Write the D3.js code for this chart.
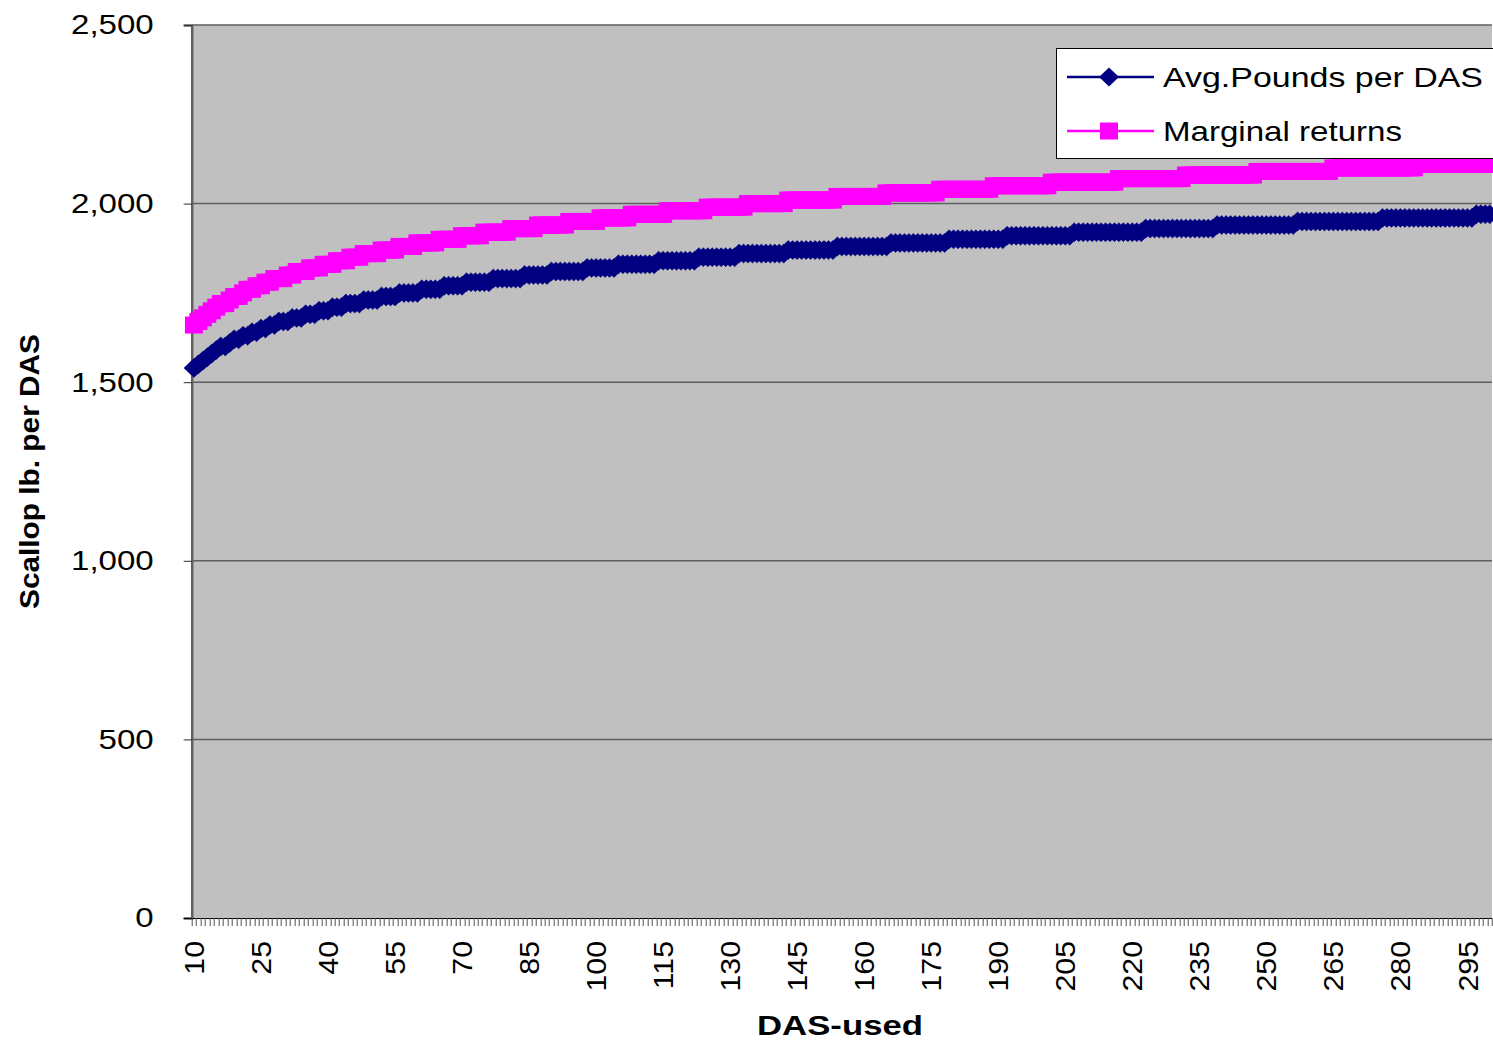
<!DOCTYPE html>
<html>
<head>
<meta charset="utf-8">
<script src="https://cdn.jsdelivr.net/npm/d3@7"></script>
<style>
  body { margin: 0; background: #ffffff; }
  text { font-family: Arial, "Liberation Sans", sans-serif; }
</style>
</head>
<body>
<div id="chart"></div>
<script>
// DAS-used categories, 10 .. 300
const dasUsed = d3.range(10, 301);

// Avg. pounds per DAS, one value per category
const avgPounds = [
  1540,1550,1560,1570,1580,1590,1600,1600,1610,1620,
  1620,1630,1630,1640,1640,1650,1650,1660,1660,1670,
  1670,1670,1680,1680,1680,1690,1690,1690,1700,1700,
  1700,1710,1710,1710,1720,1720,1720,1720,1730,1730,
  1730,1730,1740,1740,1740,1740,1750,1750,1750,1750,
  1750,1760,1760,1760,1760,1760,1770,1770,1770,1770,
  1770,1780,1780,1780,1780,1780,1780,1790,1790,1790,
  1790,1790,1790,1790,1800,1800,1800,1800,1800,1800,
  1810,1810,1810,1810,1810,1810,1810,1810,1820,1820,
  1820,1820,1820,1820,1820,1830,1830,1830,1830,1830,
  1830,1830,1830,1830,1840,1840,1840,1840,1840,1840,
  1840,1840,1840,1850,1850,1850,1850,1850,1850,1850,
  1850,1850,1860,1860,1860,1860,1860,1860,1860,1860,
  1860,1860,1860,1870,1870,1870,1870,1870,1870,1870,
  1870,1870,1870,1870,1880,1880,1880,1880,1880,1880,
  1880,1880,1880,1880,1880,1880,1890,1890,1890,1890,
  1890,1890,1890,1890,1890,1890,1890,1890,1890,1900,
  1900,1900,1900,1900,1900,1900,1900,1900,1900,1900,
  1900,1900,1910,1910,1910,1910,1910,1910,1910,1910,
  1910,1910,1910,1910,1910,1910,1910,1920,1920,1920,
  1920,1920,1920,1920,1920,1920,1920,1920,1920,1920,
  1920,1920,1920,1930,1930,1930,1930,1930,1930,1930,
  1930,1930,1930,1930,1930,1930,1930,1930,1930,1940,
  1940,1940,1940,1940,1940,1940,1940,1940,1940,1940,
  1940,1940,1940,1940,1940,1940,1940,1950,1950,1950,
  1950,1950,1950,1950,1950,1950,1950,1950,1950,1950,
  1950,1950,1950,1950,1950,1950,1960,1960,1960,1960,
  1960,1960,1960,1960,1960,1960,1960,1960,1960,1960,
  1960,1960,1960,1960,1960,1960,1960,1970,1970,1970,
  1970
];

// Marginal returns, one value per category
const marginalReturns = [
  1660,1670,1680,1690,1700,1710,1720,1720,1730,1740,
  1740,1750,1760,1760,1770,1770,1780,1780,1790,1790,
  1790,1800,1800,1810,1810,1810,1820,1820,1820,1830,
  1830,1830,1840,1840,1840,1850,1850,1850,1860,1860,
  1860,1860,1870,1870,1870,1870,1880,1880,1880,1880,
  1890,1890,1890,1890,1890,1900,1900,1900,1900,1900,
  1910,1910,1910,1910,1910,1920,1920,1920,1920,1920,
  1920,1930,1930,1930,1930,1930,1930,1940,1940,1940,
  1940,1940,1940,1940,1950,1950,1950,1950,1950,1950,
  1950,1960,1960,1960,1960,1960,1960,1960,1970,1970,
  1970,1970,1970,1970,1970,1970,1980,1980,1980,1980,
  1980,1980,1980,1980,1980,1990,1990,1990,1990,1990,
  1990,1990,1990,1990,2000,2000,2000,2000,2000,2000,
  2000,2000,2000,2010,2010,2010,2010,2010,2010,2010,
  2010,2010,2010,2010,2020,2020,2020,2020,2020,2020,
  2020,2020,2020,2020,2020,2030,2030,2030,2030,2030,
  2030,2030,2030,2030,2030,2030,2030,2040,2040,2040,
  2040,2040,2040,2040,2040,2040,2040,2040,2040,2050,
  2050,2050,2050,2050,2050,2050,2050,2050,2050,2050,
  2050,2050,2060,2060,2060,2060,2060,2060,2060,2060,
  2060,2060,2060,2060,2060,2060,2060,2070,2070,2070,
  2070,2070,2070,2070,2070,2070,2070,2070,2070,2070,
  2070,2070,2080,2080,2080,2080,2080,2080,2080,2080,
  2080,2080,2080,2080,2080,2080,2080,2080,2090,2090,
  2090,2090,2090,2090,2090,2090,2090,2090,2090,2090,
  2090,2090,2090,2090,2090,2100,2100,2100,2100,2100,
  2100,2100,2100,2100,2100,2100,2100,2100,2100,2100,
  2100,2100,2100,2100,2110,2110,2110,2110,2110,2110,
  2110,2110,2110,2110,2110,2110,2110,2110,2110,2110,
  2110
];

const yTicks = [0, 500, 1000, 1500, 2000, 2500];
const xLabelStep = 15;
const seriesNames = ["Avg.Pounds per DAS", "Marginal returns"];
const seriesColors = ["#000080", "#ff00ff"];

// stretch text a little, the original was rendered wide
function widen(sel, k) {
    sel.each(function () {
        let w = this.getComputedTextLength();
        d3.select(this)
            .attr("textLength", w * k)
            .attr("lengthAdjust", "spacingAndGlyphs");
    });
}

function init() {
    let margin = { top: 25, right: 1, bottom: 124, left: 191.7 },
        width = 1493 - margin.left - margin.right,
        height = 1042 - margin.top - margin.bottom;

    let root = d3.select("#chart")
        .append("svg")
        .attr("width", 1493)
        .attr("height", 1042);

    let svg = root.append("g")
        .attr("transform", "translate(" + margin.left + "," + margin.top + ")");

    let x = d3.scaleBand()
        .domain(dasUsed)
        .range([0, width])
        .padding(0);

    let y = d3.scaleLinear()
        .domain([0, 2500])
        .range([height, 0]);

    // grey plot area
    svg.append("rect")
        .attr("width", width)
        .attr("height", height)
        .attr("fill", "#c0c0c0");

    // horizontal grid lines
    svg.selectAll(".grid")
        .data(yTicks.filter(d => d > 0))
        .join("line")
        .attr("class", "grid")
        .attr("x1", 0)
        .attr("x2", width)
        .attr("y1", d => y(d))
        .attr("y2", d => y(d))
        .attr("stroke", "#5f5f5f")
        .attr("stroke-width", 1.5);

    // y axis
    let yAxis = svg.append("g")
        .call(d3.axisLeft(y)
            .tickValues(yTicks)
            .tickSize(8)
            .tickPadding(30)
            .tickFormat(d3.format(",")));
    yAxis.select(".domain")
        .attr("stroke", "#606060")
        .attr("stroke-width", 2.5);
    yAxis.selectAll(".tick line").attr("stroke", "#303030");
    yAxis.selectAll(".tick text")
        .attr("font-size", 28)
        .attr("fill", "#000");
    widen(yAxis.selectAll(".tick text"), 1.18);

    // x axis: tick mark at every category boundary
    let bounds = dasUsed.map(d => x(d)).concat([width]);
    svg.append("line")
        .attr("x1", -8)
        .attr("x2", width)
        .attr("y1", height + 0.5)
        .attr("y2", height + 0.5)
        .attr("stroke", "#000");
    svg.selectAll(".xtick")
        .data(bounds)
        .join("line")
        .attr("class", "xtick")
        .attr("x1", d => Math.round(d) + 0.5)
        .attr("x2", d => Math.round(d) + 0.5)
        .attr("y1", height)
        .attr("y2", height + 8)
        .attr("stroke", "#505050")
        .attr("stroke-width", 1);

    let xAxis = svg.append("g")
        .attr("transform", "translate(0," + height + ")")
        .call(d3.axisBottom(x)
            .tickValues(dasUsed.filter((d, i) => i % xLabelStep === 0))
            .tickSize(0));
    xAxis.select(".domain").remove();
    xAxis.selectAll(".tick text")
        .attr("font-size", 28)
        .attr("fill", "#000")
        .attr("transform", "rotate(-90)")
        .attr("text-anchor", "end")
        .attr("x", -23)
        .attr("y", 0)
        .attr("dy", "0.36em");
    widen(xAxis.selectAll(".tick text"), 1.08);

    // series
    let cx = d => x(d) + x.bandwidth() / 2;
    let line = d3.line()
        .x((d, i) => cx(dasUsed[i]))
        .y(d => y(d));

    let diamond = "M0,-9.5L10,0L0,9.5L-10,0Z";

    svg.append("path")
        .datum(avgPounds)
        .attr("fill", "none")
        .attr("stroke", seriesColors[0])
        .attr("stroke-width", 2.5)
        .attr("d", line);
    svg.selectAll(".avg")
        .data(avgPounds)
        .join("path")
        .attr("class", "avg")
        .attr("d", diamond)
        .attr("transform", (d, i) => "translate(" + cx(dasUsed[i]) + "," + y(d) + ")")
        .attr("fill", seriesColors[0])
        .attr("stroke", seriesColors[0])
        .attr("stroke-width", 0.5);

    svg.append("path")
        .datum(marginalReturns)
        .attr("fill", "none")
        .attr("stroke", seriesColors[1])
        .attr("stroke-width", 2.5)
        .attr("d", line);
    svg.selectAll(".marg")
        .data(marginalReturns)
        .join("rect")
        .attr("class", "marg")
        .attr("x", (d, i) => cx(dasUsed[i]) - 9)
        .attr("y", d => y(d) - 8.5)
        .attr("width", 18)
        .attr("height", 17)
        .attr("fill", seriesColors[1]);

    // axis titles
    root.append("text")
        .attr("transform", "translate(39," + (margin.top + height / 2) + ") rotate(-90)")
        .attr("text-anchor", "middle")
        .attr("font-size", 28)
        .attr("font-weight", "bold")
        .attr("textLength", 275)
        .attr("lengthAdjust", "spacingAndGlyphs")
        .text("Scallop lb. per DAS");

    root.append("text")
        .attr("x", 840)
        .attr("y", 1035)
        .attr("text-anchor", "middle")
        .attr("font-size", 28)
        .attr("font-weight", "bold")
        .attr("textLength", 166)
        .attr("lengthAdjust", "spacingAndGlyphs")
        .text("DAS-used");

    // legend
    let legend = root.append("g");
    legend.append("rect")
        .attr("x", 1056.5)
        .attr("y", 48.5)
        .attr("width", 500)
        .attr("height", 110)
        .attr("fill", "#fff")
        .attr("stroke", "#000")
        .attr("stroke-width", 1);

    let rows = [77, 131];
    let widths = [320, 239];
    seriesNames.forEach(function (name, i) {
        legend.append("line")
            .attr("x1", 1067)
            .attr("x2", 1154)
            .attr("y1", rows[i])
            .attr("y2", rows[i])
            .attr("stroke", seriesColors[i])
            .attr("stroke-width", 2.5);
        if (i === 0) {
            legend.append("path")
                .attr("d", diamond)
                .attr("transform", "translate(1109," + rows[i] + ")")
                .attr("fill", seriesColors[i]);
        } else {
            legend.append("rect")
                .attr("x", 1100)
                .attr("y", rows[i] - 8.5)
                .attr("width", 18)
                .attr("height", 17)
                .attr("fill", seriesColors[i]);
        }
        legend.append("text")
            .attr("x", 1163)
            .attr("y", rows[i] + 10)
            .attr("font-size", 28)
            .attr("textLength", widths[i])
            .attr("lengthAdjust", "spacingAndGlyphs")
            .text(name);
    });
}

window.addEventListener('load', init);
</script>
</body>
</html>
